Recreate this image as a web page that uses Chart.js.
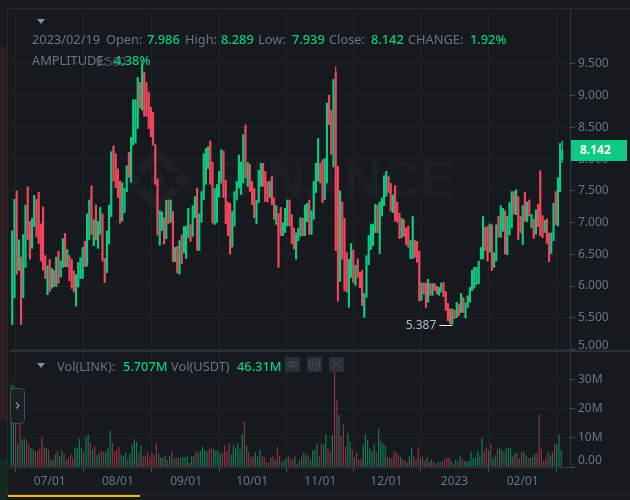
<!DOCTYPE html>
<html>
<head>
<meta charset="utf-8">
<title>LINK/USDT daily candles</title>
<script src="https://cdn.jsdelivr.net/npm/chart.js@4"></script>
<style>
  html, body { margin: 0; padding: 0; background: #161a1e; }
  #stage { position: relative; width: 630px; height: 500px; overflow: hidden; background: #161a1e;
           font-family: "Noto Sans", sans-serif; font-size: 12.8px; color: #6b7380; }
  #stage span.t { position: absolute; white-space: nowrap; line-height: 16px; }
  .up { color: #0ecb81; font-weight: 500; }
  canvas { position: absolute; left: 0; top: 0; }
  .strip { position: absolute; left: 0; width: 7px; }
  .btn { position: absolute; top: 357px; width: 15px; height: 15px; background: #2b2f36; }
  .btn svg, #handle svg { display: block; }
  #handle { position: absolute; left: 10px; top: 388px; width: 13px; height: 34px; border: 1px solid #474d57;
            border-radius: 4px; background: #1b1f24; box-sizing: content-box; }
  #wmText { position: absolute; left: 214px; top: 149px; font: bold 53px "Liberation Sans", sans-serif;
            color: rgba(255,255,255,0.028); line-height: 62px; letter-spacing: 0; }
</style>
</head>
<body>
<div id="stage">
  <div class="strip" style="top:47px;height:374px;background:#2c1e23"></div>
  <div class="strip" style="top:459px;height:41px;background:#16291f"></div>

  <svg style="position:absolute;left:125px;top:140px" width="70" height="80" fill="rgba(255,255,255,0.03)">
    <polygon points="33,7 54,28 47,35 33,21 19,35 12,28"/>
    <polygon points="33,73 54,52 47,45 33,59 19,45 12,52"/>
    <polygon points="33,31 42,40 33,49 24,40"/>
    <polygon points="8,31 17,40 8,49 -1,40"/>
    <polygon points="58,31 67,40 58,49 49,40"/>
  </svg>
  <div id="wmText">BINANCE</div>

  <canvas id="chart" width="630" height="500"></canvas>

  <svg style="position:absolute;left:37px;top:19px" width="9" height="6"><polygon points="0,0 8,0 4,5" fill="#848e9c"/></svg>
  <span class="t" style="left:32px;top:31px">2023/02/19</span>
  <span class="t" style="left:106px;top:31px">Open:</span>
  <span class="t up" style="left:147px;top:31px">7.986</span>
  <span class="t" style="left:185px;top:31px">High:</span>
  <span class="t up" style="left:221px;top:31px">8.289</span>
  <span class="t" style="left:258px;top:31px">Low:</span>
  <span class="t up" style="left:292px;top:31px">7.939</span>
  <span class="t" style="left:329px;top:31px">Close:</span>
  <span class="t up" style="left:371px;top:31px">8.142</span>
  <span class="t" style="left:408px;top:31px">CHANGE:</span>
  <span class="t up" style="left:470px;top:31px">1.92%</span>
  <span class="t" style="left:32px;top:52px">AMPLITUDE:</span>
  <span class="t up" style="left:114px;top:52px">4.38%</span>

  <svg style="position:absolute;left:37px;top:363px" width="9" height="6"><polygon points="0,0 8,0 4,5" fill="#848e9c"/></svg>
  <span class="t" style="left:57px;top:358px">Vol(LINK):</span>
  <span class="t up" style="left:123px;top:358px">5.707M</span>
  <span class="t" style="left:171px;top:358px">Vol(USDT)</span>
  <span class="t up" style="left:237px;top:358px">46.31M</span>

  <div class="btn" style="left:285px"><svg width="15" height="15" fill="none" stroke="#474d57"><path d="M2 7.5 Q7.5 2 13 7.5 Q7.5 13 2 7.5Z"/><circle cx="7.5" cy="7.5" r="2"/></svg></div>
  <div class="btn" style="left:307px"><svg width="15" height="15" fill="none" stroke="#474d57"><polygon points="7.5,2 12.5,4.8 12.5,10.2 7.5,13 2.5,10.2 2.5,4.8"/><circle cx="7.5" cy="7.5" r="2"/></svg></div>
  <div class="btn" style="left:329px"><svg width="15" height="15" fill="none" stroke="#474d57"><path d="M3 3 L12 12 M12 3 L3 12"/></svg></div>

  <div id="handle"><svg width="13" height="34" fill="none" stroke="#848e9c" stroke-width="1.2"><path d="M5 13.5 L8 16.5 L5 19.5"/></svg></div>

  <div style="position:absolute;left:8px;top:495px;width:132px;height:2px;background:#f0b90b"></div>
</div>

<script>
// Daily OHLC for LINK/USDT, 14 Jun 2022 to 19 Feb 2023, one row per ten sessions.
const opens = [
  5.39,5.81,7.50,6.24,6.46,5.81,6.29,7.57,7.02,6.59,
  6.93,7.37,7.48,6.98,7.25,6.48,5.86,6.42,5.96,6.25,
  5.99,6.55,6.14,6.29,6.83,6.30,6.48,6.42,6.24,5.68,
  5.98,6.11,6.12,6.71,6.31,6.73,7.58,6.63,7.28,6.59,
  6.81,7.14,6.44,6.21,6.66,7.09,8.21,8.09,7.85,7.66,
  7.02,7.15,7.48,8.11,7.63,8.22,8.25,8.48,9.21,8.77,
  9.37,9.21,9.06,8.82,8.74,8.23,7.69,6.64,6.87,7.08,
  6.74,7.36,7.00,7.18,6.38,6.63,6.18,6.81,6.52,6.43,
  6.76,6.97,6.78,7.07,7.55,6.55,7.00,7.36,7.60,7.85,
  8.29,7.96,6.97,7.00,7.40,7.62,8.13,7.67,7.33,7.31,
  6.61,6.94,7.35,7.54,7.44,7.62,8.54,7.57,7.92,7.65,
  7.54,6.98,7.31,7.57,7.94,7.81,7.65,7.39,7.73,7.39,
  6.97,7.15,7.24,6.79,6.84,6.94,7.36,7.13,6.92,6.42,
  6.71,6.78,7.07,6.79,7.01,7.36,6.81,7.05,7.47,7.65,
  7.94,7.99,7.36,7.62,9.01,8.77,7.87,9.37,7.89,6.07,
  7.33,7.07,6.53,5.66,6.13,6.57,6.01,6.43,6.22,6.25,
  5.50,5.82,6.33,6.57,6.63,6.84,7.28,6.51,7.10,7.26,
  7.41,7.73,7.62,7.15,7.59,7.33,7.15,6.76,7.05,6.92,
  6.95,6.43,6.43,6.72,6.71,6.55,5.77,6.05,6.05,5.74,
  6.04,5.85,6.04,6.00,5.85,5.90,6.06,5.92,5.73,5.64,
  5.40,5.62,5.50,5.71,5.58,5.82,5.49,5.66,5.74,5.92,
  5.96,6.02,6.03,6.42,6.42,6.93,6.94,6.53,6.97,6.29,
  6.39,7.10,6.76,6.86,7.19,6.49,6.80,6.91,7.49,7.12,
  7.41,7.10,6.65,7.48,7.01,7.36,6.91,7.06,6.81,7.29,
  7.82,7.11,6.84,7.06,6.84,6.51,6.71,7.49,6.94,7.48,7.986
];
const closes = [
  6.87,7.37,6.18,6.73,5.39,6.81,7.28,6.73,6.42,7.07,
  7.43,6.77,6.67,6.39,6.25,6.11,6.32,5.91,6.28,5.99,
  6.46,6.04,6.40,6.75,6.30,6.58,6.08,5.96,5.90,6.18,
  6.38,6.45,6.61,6.30,7.14,7.36,6.81,7.05,6.72,7.02,
  7.24,6.39,6.05,6.87,7.28,8.12,7.65,7.55,7.39,6.99,
  7.63,7.54,7.90,7.71,8.35,8.94,8.94,9.29,8.80,9.50,
  8.67,8.67,8.48,8.35,8.22,7.60,6.80,7.19,7.17,6.66,
  7.35,6.98,7.36,6.38,6.61,6.20,6.72,6.35,6.94,6.94,
  7.23,6.70,7.27,7.41,6.56,7.14,7.49,8.09,8.17,8.20,
  7.60,6.99,7.54,7.60,7.81,8.15,7.39,6.98,6.79,6.50,
  7.18,7.49,7.65,8.07,7.96,8.39,7.70,7.95,7.49,7.28,
  7.07,7.35,7.83,7.94,7.57,7.33,7.32,7.65,7.28,7.05,
  7.27,6.29,6.79,7.00,7.23,7.36,6.94,6.67,6.58,6.84,
  6.92,7.08,6.79,7.28,7.31,6.81,7.19,7.65,7.94,8.33,
  7.62,7.31,8.01,8.89,8.54,8.07,9.26,6.55,5.76,7.50,
  6.42,5.92,5.90,6.42,6.67,6.05,6.33,6.13,5.97,5.69,
  5.89,6.48,6.80,6.97,6.98,7.29,6.84,7.33,7.39,7.74,
  7.81,7.47,7.18,7.44,7.02,7.00,6.74,7.07,6.78,6.65,
  6.61,6.72,7.10,6.45,6.37,5.76,6.05,5.87,5.66,6.11,
  5.85,6.04,5.92,5.87,5.98,6.05,5.83,5.61,5.45,5.40,
  5.64,5.48,5.75,5.53,5.89,5.58,5.74,5.85,5.98,6.25,
  6.30,6.30,6.40,6.61,7.10,6.55,6.39,6.98,6.24,6.53,
  6.97,6.77,7.27,7.23,6.50,7.10,7.32,7.49,7.13,7.52,
  6.73,6.84,7.27,7.02,7.33,7.10,7.13,6.75,7.20,6.93,
  6.79,6.76,7.04,6.67,6.38,6.84,7.31,6.96,7.71,8.25,8.142
];
const highs = [
  6.87,7.37,7.50,6.73,6.46,6.81,7.28,7.57,7.02,7.07,
  7.43,7.37,7.48,6.98,7.25,6.48,6.32,6.42,6.28,6.25,
  6.46,6.55,6.40,6.75,6.83,6.58,6.48,6.42,6.24,6.18,
  6.38,6.45,6.61,6.71,7.14,7.36,7.58,7.05,7.28,7.02,
  7.24,7.14,6.44,6.87,7.28,8.12,8.21,8.09,7.85,7.66,
  7.63,7.54,7.90,8.11,8.35,8.94,8.94,9.29,9.21,9.56,
  9.37,9.21,9.06,8.82,8.74,8.23,7.69,7.19,7.17,7.08,
  7.35,7.36,7.36,7.18,6.61,6.63,6.72,6.81,6.94,6.94,
  7.23,6.97,7.27,7.41,7.55,7.14,7.49,8.09,8.17,8.20,
  8.29,7.96,7.54,7.60,7.81,8.15,8.13,7.67,7.33,7.31,
  7.18,7.49,7.65,8.07,7.96,8.39,8.54,7.95,7.92,7.65,
  7.54,7.35,7.83,7.94,7.94,7.81,7.65,7.65,7.73,7.39,
  7.27,7.15,7.24,7.00,7.23,7.36,7.36,7.13,6.92,6.84,
  6.92,7.08,7.07,7.28,7.31,7.36,7.19,7.65,7.94,8.33,
  7.94,7.99,8.01,8.89,9.01,8.77,9.26,9.46,7.89,7.50,
  7.33,7.07,6.53,6.42,6.67,6.57,6.33,6.43,6.22,6.25,
  5.89,6.48,6.80,6.97,6.98,7.29,7.28,7.33,7.39,7.74,
  7.81,7.73,7.62,7.44,7.59,7.33,7.15,7.07,7.05,6.92,
  6.95,6.72,7.10,6.72,6.71,6.55,6.05,6.05,6.05,6.11,
  6.04,6.04,6.04,6.00,5.98,6.05,6.06,5.92,5.73,5.64,
  5.64,5.62,5.75,5.71,5.89,5.82,5.74,5.85,5.98,6.25,
  6.30,6.30,6.40,6.61,7.10,6.93,6.94,6.98,6.97,6.53,
  6.97,7.10,7.27,7.23,7.19,7.10,7.32,7.49,7.49,7.52,
  7.41,7.10,7.27,7.48,7.33,7.36,7.13,7.06,7.20,7.29,
  7.82,7.11,7.04,7.06,6.84,6.84,7.31,7.49,7.71,8.25,8.289
];
const lows = [
  5.39,5.81,6.18,6.24,5.39,5.81,6.29,6.73,6.42,6.59,
  6.93,6.77,6.67,6.39,6.25,6.11,5.86,5.91,5.96,5.99,
  5.99,6.04,6.14,6.29,6.30,6.30,6.08,5.96,5.90,5.68,
  5.98,6.11,6.12,6.30,6.31,6.73,6.81,6.63,6.72,6.59,
  6.81,6.39,6.05,6.21,6.66,7.09,7.65,7.55,7.39,6.99,
  7.02,7.15,7.48,7.71,7.63,8.22,8.25,8.48,8.80,8.77,
  8.67,8.67,8.48,8.35,8.22,7.60,6.80,6.64,6.87,6.66,
  6.74,6.98,7.00,6.38,6.38,6.20,6.18,6.35,6.52,6.43,
  6.76,6.70,6.78,7.07,6.56,6.55,7.00,7.36,7.60,7.85,
  7.60,6.99,6.97,7.00,7.40,7.62,7.39,6.98,6.79,6.50,
  6.61,6.94,7.35,7.54,7.44,7.62,7.70,7.57,7.49,7.28,
  7.07,6.98,7.31,7.57,7.57,7.33,7.32,7.39,7.28,7.05,
  6.97,6.29,6.79,6.79,6.84,6.94,6.94,6.67,6.58,6.42,
  6.71,6.78,6.79,6.79,7.01,6.81,6.81,7.05,7.47,7.65,
  7.62,7.31,7.36,7.62,8.54,8.07,7.87,6.55,5.76,6.07,
  6.42,5.92,5.90,5.66,6.13,6.05,6.01,6.13,5.97,5.69,
  5.50,5.82,6.33,6.57,6.63,6.84,6.84,6.51,7.10,7.26,
  7.41,7.47,7.18,7.15,7.02,7.00,6.74,6.76,6.78,6.65,
  6.61,6.43,6.43,6.45,6.37,5.76,5.77,5.87,5.66,5.74,
  5.85,5.85,5.92,5.87,5.85,5.90,5.83,5.61,5.45,5.40,
  5.387,5.48,5.50,5.53,5.58,5.58,5.49,5.66,5.74,5.92,
  5.96,6.02,6.03,6.42,6.42,6.55,6.39,6.53,6.24,6.29,
  6.39,6.77,6.76,6.86,6.50,6.49,6.80,6.91,7.13,7.12,
  6.73,6.84,6.65,7.02,7.01,7.10,6.91,6.75,6.81,6.93,
  6.79,6.76,6.84,6.67,6.38,6.51,6.71,6.96,6.94,7.48,7.939
];
// Traded volume per session, in millions of LINK.
const volumes = [
  28,28,14.7,8,14.7,9.5,9.7,9.2,8,6.5,
  6.3,5.5,5.4,6.3,10.2,6.9,6.5,6,2.6,2.6,
  4.3,5.4,3.7,5.7,4.4,2.4,3.3,4.4,3.3,6.5,
  6.9,9.7,6.6,5,10.2,11.3,8.3,6,6.9,4,
  5,5.4,5.2,5.2,6.5,12.5,8.2,5.4,6,6.9,
  4.3,3.7,5,2.9,4.6,7.7,9.5,8.6,4.6,7.4,
  3.5,3.8,5,3.3,4.8,4,8.2,4.8,3.3,3.3,
  4,2.4,3.7,5.6,2.9,3.3,3.1,3.3,3.5,3.3,
  3.7,1.5,3.7,3.7,5.4,5,5.7,7,5.7,5.4,
  6.3,6.9,6.3,5.7,5.7,4.6,5,7.4,5.2,8,
  4.3,7.7,6.6,8.2,6.3,11.3,15.5,7.4,5.2,3.3,
  3.7,5,3.5,6,3.7,3.7,1.8,1.5,3.3,3.7,
  2.4,7,4,1.8,2.1,2.9,3.7,2.7,2.7,3.7,
  1,2.4,3.7,5,4,4,2.6,5.6,6,8,
  3.7,8.2,7.8,11.3,6.3,5.2,11,35,23,18,
  10.8,14.7,6.9,11.7,8.6,6,3.3,5,2.4,2.9,
  7.7,11.3,9.3,6.3,5.4,7.8,5,13,8.8,8,
  7.4,3.5,3.3,2.9,5.4,5,4.3,3.5,2.6,2.4,
  1.6,3.7,6.6,3.7,2.4,6.8,2.9,3.5,2,3.3,
  1.8,2.6,1.8,1,1.7,1.8,2.1,2.9,3.3,3.3,
  2.1,1.2,2.4,1.8,3.7,2.6,2.1,1.8,2.1,5.4,
  3.3,3.3,5.5,4,10,5.4,6.9,5.7,8.1,3.1,
  4,6.3,6.5,6,5.2,6.5,6.8,6.5,3.8,4.8,
  4.8,3.1,5.2,5.4,4,3.1,3.1,3.4,4.4,4.8,
  18,6.3,2.1,3.1,5.2,4,5,8,7.8,11.2,5.707
];

const dateTickSessions = [17, 48, 79, 109, 140, 170, 201, 232];
const dateTickLabels = ['07/01', '08/01', '09/01', '10/01', '11/01', '12/01', '2023', '02/01'];
const priceTicks = [5, 5.5, 6, 6.5, 7, 7.5, 8, 8.5, 9, 9.5];
const priceTickLabels = ['5.000', '5.500', '6.000', '6.500', '7.000', '7.500', '8.000', '8.500', '9.000', '9.500'];
const volumeTicks = [0, 10, 20, 30];
const volumeTickLabels = ['0.00', '10M', '20M', '30M'];

const UP = '#0ecb81', DOWN = '#f6465d';
const UP_DIM = 'rgba(14,203,129,0.55)', DOWN_DIM = 'rgba(246,70,93,0.55)';
const GRID = '#1f2328', AXIS = '#33373e', TICK = '#474d57', LABEL = '#6b7380';
const FONT = '"Noto Sans", sans-serif';

const isUp = opens.map((o, i) => closes[i] >= o);
const candleColors = isUp.map(u => u ? UP : DOWN);
const volumeColors = isUp.map(u => u ? UP_DIM : DOWN_DIM);

// Pane frame, the session high and low markers, and the last-price tag.
const overlay = {
  id: 'overlay',
  beforeDraw(chart) {
    const c = chart.ctx;
    c.save();
    c.strokeStyle = '#262a30';
    c.lineWidth = 1;
    c.beginPath();
    c.moveTo(7.5, 8); c.lineTo(7.5, 494);
    c.moveTo(8, 8.5); c.lineTo(630, 8.5);
    c.moveTo(8, 494.5); c.lineTo(630, 494.5);
    c.stroke();
    c.restore();
  },
  afterDraw(chart) {
    const c = chart.ctx, x = chart.scales.x, y = chart.scales.y;
    c.save();
    // separator between the price and volume panes
    c.strokeStyle = '#2b2f36';
    c.lineWidth = 2;
    c.beginPath(); c.moveTo(10, 351); c.lineTo(630, 351); c.stroke();

    // lowest low
    const lowest = Math.min(...lows), li = lows.indexOf(lowest);
    const lx = x.getPixelForValue(li), ly = y.getPixelForValue(lowest);
    c.font = '12px ' + FONT;
    c.textBaseline = 'middle';
    c.textAlign = 'right';
    c.fillStyle = '#b7bdc6';
    c.fillText(lowest.toFixed(3), lx - 16, ly + 1);
    c.strokeStyle = '#eaecef';
    c.lineWidth = 1;
    c.beginPath(); c.moveTo(lx - 13, Math.round(ly) + 0.5); c.lineTo(lx, Math.round(ly) + 0.5); c.stroke();

    // highest high, sitting under the header row
    const highest = Math.max(...highs), hi = highs.indexOf(highest);
    const hx = x.getPixelForValue(hi), hy = y.getPixelForValue(highest);
    c.fillStyle = 'rgba(132,142,156,0.55)';
    c.fillText(highest.toFixed(3), hx - 16, hy + 2);

    // last-price tag on the axis
    const last = closes[closes.length - 1];
    const ty = y.getPixelForValue(last);
    c.fillStyle = UP;
    c.fillRect(571, Math.round(ty) - 10, 56, 21);
    c.fillStyle = '#ffffff';
    c.font = 'bold 12px ' + FONT;
    c.textAlign = 'left';
    c.fillText(last.toFixed(3), 580, Math.round(ty) + 1);
    c.restore();
  }
};

const wickData = highs.map((h, i) => ({ x: i, y: [lows[i], h] }));
const bodyData = opens.map((o, i) => ({ x: i, y: [Math.min(o, closes[i]), Math.max(o, closes[i])] }));
// the volume bars sit half a session left of their candles
const volumeData = volumes.map((v, i) => ({ x: i - 0.5, y: v }));

function tickFont(size, shifted) {
  return ctx => {
    const lh = shifted ? shifted[ctx.tick && ctx.tick.value] : null;
    return { family: FONT, size, lineHeight: lh ? lh + 'px' : 1.2 };
  };
}

new Chart(document.getElementById('chart'), {
  type: 'bar',
  data: {
    datasets: [
      { label: 'Wick', data: wickData, backgroundColor: candleColors, barThickness: 1.2, xAxisID: 'x', yAxisID: 'y', order: 2 },
      { label: 'Body', data: bodyData, backgroundColor: candleColors, barThickness: 2.1, xAxisID: 'x', yAxisID: 'y', order: 1 },
      { label: 'Volume', data: volumeData, backgroundColor: volumeColors, barThickness: 1.2, xAxisID: 'x', yAxisID: 'v', order: 3 }
    ]
  },
  plugins: [overlay],
  options: {
    responsive: false,
    animation: false,
    events: [],
    layout: { padding: { left: 8, top: 8, right: 0, bottom: 0 } },
    datasets: { bar: { grouped: false, inflateAmount: 0, borderWidth: 0 } },
    plugins: { legend: { display: false }, tooltip: { enabled: false }, title: { display: false } },
    scales: {
      x: {
        type: 'linear',
        position: 'bottom',
        min: -1.95,
        max: 253.5,
        offset: false,
        afterFit(s) { s.height = 33; },
        afterBuildTicks(s) { s.ticks = dateTickSessions.map(value => ({ value })); },
        grid: { color: GRID, tickColor: TICK, tickLength: 5, drawOnChartArea: true },
        border: { color: AXIS },
        ticks: {
          autoSkip: false, maxRotation: 0, padding: 2, color: LABEL,
          font: { family: FONT, size: 12 },
          callback: v => dateTickLabels[dateTickSessions.indexOf(v)]
        }
      },
      y: {
        type: 'linear',
        position: 'right',
        stack: 'panes',
        stackWeight: 343,
        weight: 0,
        min: 4.967,
        max: 10.347,
        afterFit(s) { s.width = 60; },
        afterBuildTicks(s) { s.ticks = priceTicks.map(value => ({ value })); },
        grid: { color: GRID, tickColor: TICK, tickLength: 5 },
        border: { color: AXIS },
        ticks: {
          padding: 3, color: LABEL, autoSkip: false,
          font: tickFont(12, { 5: 8 }),
          callback: v => v === 5 ? ['5.000', ''] : priceTickLabels[priceTicks.indexOf(v)]
        }
      },
      v: {
        type: 'linear',
        position: 'right',
        stack: 'panes',
        stackWeight: 116,
        weight: 1,
        min: 0,
        max: 39.6,
        afterFit(s) { s.width = 60; },
        afterBuildTicks(s) { s.ticks = volumeTicks.map(value => ({ value })); },
        grid: { color: GRID, tickColor: TICK, tickLength: 5 },
        border: { color: AXIS },
        ticks: {
          padding: 3, color: LABEL, autoSkip: false,
          font: tickFont(12, { 0: 12 }),
          callback: v => v === 0 ? ['0.00', ''] : volumeTickLabels[volumeTicks.indexOf(v)]
        }
      }
    }
  }
});
</script>
</body>
</html>
